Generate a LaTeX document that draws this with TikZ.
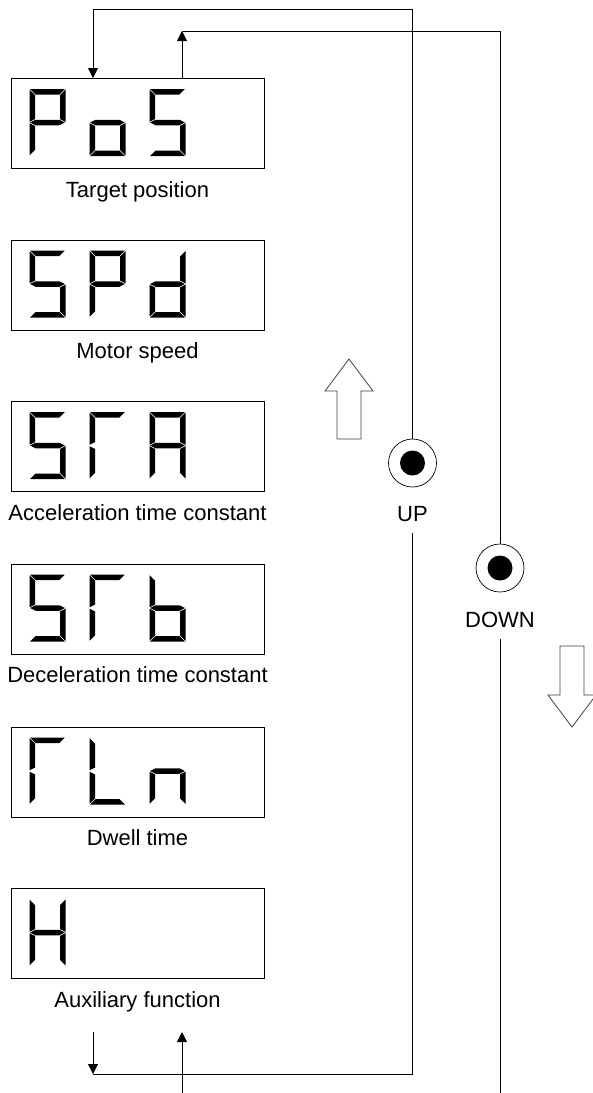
\documentclass[tikz,border=0pt]{standalone}
\usepackage{fontspec}
\setmainfont{Liberation Sans}
\usetikzlibrary{arrows.meta}
\newcommand\segW{36}
\newcommand\segH{67}
\newcommand\segT{5.5}
\newcommand\segG{0.7}
\newcommand\segM{33.5}
\newcommand\segK{2.75}
\tikzset{
  dispbox/.style={draw=black, line width=1.1pt, minimum width=253pt, minimum height=90pt, inner sep=0pt, anchor=north west},
  lbl/.style={font=\fontsize{22}{26}\selectfont, anchor=base, inner sep=0pt},
  conn/.style={line width=1pt, black},
  arr/.style={conn, -{Triangle[length=10pt,width=10pt]}},
  btn/.style={circle, draw=black, line width=0.7pt, minimum size=48pt, inner sep=0pt},
  btndot/.style={circle, fill=black, minimum size=25pt, inner sep=0pt},
  hollow/.style={draw=black!75, line width=0.8pt, fill=white},
  seg a/.pic={\fill (\segG,0)--(\segW-\segG,0)--(\segW-\segT-\segG,\segT)--(\segT+\segG,\segT)--cycle;},
  seg d/.pic={\fill (\segG,\segH)--(\segW-\segG,\segH)--(\segW-\segT-\segG,\segH-\segT)--(\segT+\segG,\segH-\segT)--cycle;},
  seg f/.pic={\fill (0,\segG)--(\segT,\segT+\segG)--(\segT,\segM-\segK-\segG)--(0,\segM-\segG)--cycle;},
  seg e/.pic={\fill (0,\segM+\segG)--(\segT,\segM+\segK+\segG)--(\segT,\segH-\segT-\segG)--(0,\segH-\segG)--cycle;},
  seg b/.pic={\fill (\segW,\segG)--(\segW-\segT,\segT+\segG)--(\segW-\segT,\segM-\segK-\segG)--(\segW,\segM-\segG)--cycle;},
  seg c/.pic={\fill (\segW,\segM+\segG)--(\segW-\segT,\segM+\segK+\segG)--(\segW-\segT,\segH-\segT-\segG)--(\segW,\segH-\segG)--cycle;},
  seg g/.pic={\fill (\segG,\segM)--(\segT+\segG,\segM-\segK)--(\segW-\segT-\segG,\segM-\segK)--(\segW-\segG,\segM)--(\segW-\segT-\segG,\segM+\segK)--(\segT+\segG,\segM+\segK)--cycle;},
}
\newcommand\sevenseg[3]{\foreach \s in {#3} {\pic at (#1,#2) {seg \s};}}
\begin{document}
\begin{tikzpicture}[x={(1pt,0)}, y={(0,-1pt)}]
\useasboundingbox (0,0) rectangle (593,1093);
% display boxes
\node[dispbox] (b1) at (11,78) {};
\node[dispbox] (b2) at (11,239.5) {};
\node[dispbox] (b3) at (11,401) {};
\node[dispbox] (b4) at (11,563.5) {};
\node[dispbox] (b5) at (11,726.5) {};
\node[dispbox] (b6) at (11,888) {};
% labels
\node[lbl] (l1) at (137.5,197) {Target position};
\node[lbl] (l2) at (137.5,358.5) {Motor speed};
\node[lbl] (l3) at (137.5,520) {Acceleration time constant};
\node[lbl] (l4) at (137.5,682.5) {Deceleration time constant};
\node[lbl] (l5) at (137.5,845.5) {Dwell time};
\node[lbl] (l6) at (137.5,1007) {Auxiliary function};
% digits
\sevenseg{29.5}{89}{a,b,e,f,g}
\sevenseg{89.5}{89}{c,d,e,g}
\sevenseg{149.5}{89}{a,c,d,f,g}
\sevenseg{29.5}{250.5}{a,c,d,f,g}
\sevenseg{89.5}{250.5}{a,b,e,f,g}
\sevenseg{149.5}{250.5}{b,c,d,e,g}
\sevenseg{29.5}{412}{a,c,d,f,g}
\sevenseg{89.5}{412}{a,e,f}
\sevenseg{149.5}{412}{a,b,c,e,f,g}
\sevenseg{29.5}{574.5}{a,c,d,f,g}
\sevenseg{89.5}{574.5}{a,e,f}
\sevenseg{149.5}{574.5}{c,d,e,f,g}
\sevenseg{29.5}{737.5}{a,e,f}
\sevenseg{89.5}{737.5}{d,e,f}
\sevenseg{149.5}{737.5}{c,e,g}
\sevenseg{29.5}{899}{b,c,e,f,g}
% buttons
\node[btn] (up) at (412.5,463) {};
\node[btndot] (updot) at (up) {};
\node[lbl] (uplbl) at (412.5,521.5) {UP};
\node[btn] (dn) at (500,568) {};
\node[btndot] (dndot) at (dn) {};
\node[lbl] (dnlbl) at (500,627) {DOWN};
% hollow arrows
\draw[hollow] (337,439) -- (337,391) -- (325,391) -- (349,359) -- (373,391) -- (361,391) -- (361,439) -- cycle;
\draw[hollow] (560,646) -- (560,695) -- (548,695) -- (572,727) -- (596,695) -- (584,695) -- (584,646) -- cycle;
% connectors
\coordinate (tA) at (93,9.5);
\coordinate (tB) at (182,31);
\draw[arr] (up.north) |- (tA) -- (tA |- b1.north);
\draw[arr] (tB |- b1.north) -- (tB);
\draw[conn] (tB) -| (dn.north);
\coordinate (upend) at (412.5,533);
\coordinate (bA) at (93,1074);
\coordinate (bA0) at (93,1032);
\draw[conn] (upend) |- (bA);
\draw[arr] (bA0) -- (bA);
\coordinate (bB) at (182,1094);
\coordinate (bB1) at (182,1032);
\draw[arr] (bB) -- (bB1);
\coordinate (dnend) at (500,639);
\coordinate (dnbot) at (500,1094);
\draw[conn] (dnend) -- (dnbot);
\end{tikzpicture}
\end{document}
